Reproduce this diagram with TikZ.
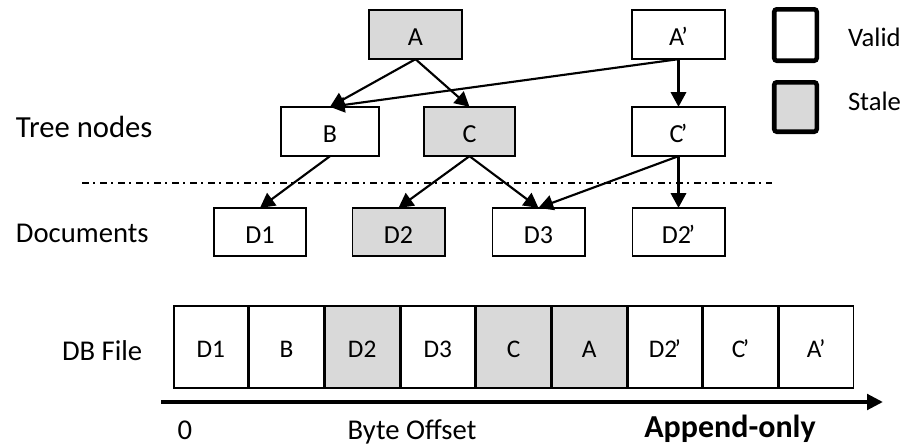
\documentclass[tikz,border=0pt]{standalone}
\usepackage{fontspec}
\setmainfont{Carlito}
\usetikzlibrary{arrows.meta}
\definecolor{staleg}{HTML}{D9D9D9}
% tight prime after a letter
\newcommand{\pr}{\kern-0.1em’}
\begin{document}
\begin{tikzpicture}[x=0.75pt,y=-0.75pt,
  every node/.style={inner sep=0pt, outer sep=0pt},
  tbox/.style={draw, line width=1.3pt, minimum width=70pt, minimum height=37pt,
               font=\fontsize{19.5}{23}\selectfont, text height=16.6pt, text depth=0pt},
  dbox/.style={tbox, minimum width=69.2pt, minimum height=36.2pt},
  stale/.style={fill=staleg},
  link/.style={line width=1.6pt, -{Triangle[length=11pt,width=11.5pt]}},
  fcell/.style={draw, line width=1.1pt, minimum width=55.6pt, minimum height=61.8pt,
                font=\fontsize{19}{23}\selectfont, text height=16pt, text depth=0pt},
  key/.style={draw, line width=3.4pt, rounded corners=2pt, minimum width=31.9pt},
  lbl/.style={font=\fontsize{21.5}{26}\selectfont, anchor=base west},
  sep/.style={line width=1.1pt, dash pattern=on 5pt off 3.5pt on 1.5pt off 3.5pt}
]
\useasboundingbox (0,0) rectangle (915,446);

% tree nodes
\node[tbox, stale] (A)  at (415.5,34.5) {A};
\node[tbox]        (Ap) at (678.5,34.5) {A\pr};
\node[tbox, minimum width=73.7pt] (B) at (330,131.5) {B};
\node[tbox, stale, minimum width=68.5pt] (C) at (469.5,131.5) {C};
\node[tbox]        (Cp) at (678.5,131.5) {C\pr};

% documents
\node[dbox]        (D1)  at (260,232)   {D1};
\node[dbox, stale] (D2)  at (398.5,232) {D2};
\node[dbox]        (D3)  at (538.5,232) {D3};
\node[dbox]        (D2p) at (678.5,232) {D2\pr};

% separator between tree nodes and documents
\coordinate (sepL) at (82,183);
\coordinate (sepR) at (772,183);
\draw[sep] (sepL) -- (sepR);

% references
\draw[link] (A.south)  -- (B.north);
\draw[link] (A.south)  -- (C.north);
\draw[link] (Ap.south) -- (B.north);
\draw[link] (Ap.south) -- (Cp.north);
\draw[link] (B.south)  -- (D1.north);
\draw[link] (C.south)  -- (D2.north);
\draw[link] (C.south)  -- (D3.north);
\draw[link] (Cp.south) -- (D3.north);
\draw[link] (Cp.south) -- (D2p.north);

% legend
\node[key, minimum height=38.6pt] (kvalid) at (795.5,35) {};
\node[key, stale, minimum height=37.1pt] (kstale) at (795.5,107) {};
\node[lbl, font=\fontsize{20}{24}\selectfont] (tvalid) at (848,46) {Valid};
\node[lbl, font=\fontsize{20}{24}\selectfont] (tstale) at (848,110) {Stale};

% row labels
\node[lbl, font=\fontsize{23}{28}\selectfont] (ltree) at (16,137) {Tree nodes};
\node[lbl] (ldocs) at (16,242) {Documents};
\node[lbl] (ldb)   at (62,360) {DB File};

% append-only file layout
\foreach \name/\txt/\sty [count=\i from 0] in
   {f1/D1/, f2/B/, f3/D2/stale, f4/D3/, f5/C/stale, f6/A/stale,
    f7/D2\pr/, f8/C\pr/, f9/A\pr/}
  \node[fcell, \sty] (\name) at ({173+75.67*(\i+0.5)},347) {\txt};
\draw[line width=1.5pt] (f8.north west) rectangle (f8.south east);

% byte offset axis
\coordinate (ax0) at (161,402);
\coordinate (ax1) at (883,402);
\draw[line width=3pt, -{Triangle[length=12pt,width=11.5pt]}] (ax0) -- (ax1);
\node[lbl, anchor=base] (zero) at (185,439) {0};
\node[lbl, anchor=base] (boff) at (412,439) {Byte Offset};
\node[lbl, anchor=base, font=\fontsize{24}{29}\selectfont\bfseries] (aonly) at (730,437) {Append-only};
\end{tikzpicture}
\end{document}
